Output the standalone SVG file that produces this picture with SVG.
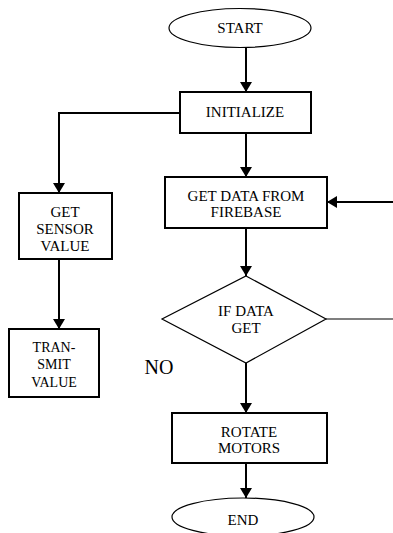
<svg xmlns="http://www.w3.org/2000/svg" width="393" height="533" viewBox="0 0 393 533">
<defs>
<marker id="ah" viewBox="0 0 10 12" refX="10" refY="6" markerWidth="10" markerHeight="12" markerUnits="userSpaceOnUse" orient="auto">
<path d="M0,0 L10,6 L0,12 Z" fill="#000"/>
</marker>
</defs>
<style>
.box{fill:#fff;stroke:#000;stroke-width:2}
.thin{fill:#fff;stroke:#000;stroke-width:1.2}
text{font-family:'Liberation Serif','Times New Roman',serif;font-size:15px;fill:#000;text-anchor:middle}
.s{font-size:14px}
.c{fill:none;stroke:#000;stroke-width:2}
.cl{fill:none;stroke:#000;stroke-width:1.2}
</style>
<rect width="393" height="533" fill="#fff"/>
<g id="connectors">
<line class="c" x1="246" y1="47" x2="246" y2="92" marker-end="url(#ah)"/>
<line class="c" x1="246" y1="133" x2="246" y2="177" marker-end="url(#ah)"/>
<polyline class="c" points="180,113 59,113 59,193" marker-end="url(#ah)"/>
<line class="c" x1="59" y1="259" x2="59" y2="329" marker-end="url(#ah)"/>
<line class="c" x1="393" y1="202" x2="327" y2="202" marker-end="url(#ah)"/>
<line class="c" x1="246" y1="228" x2="246" y2="276" marker-end="url(#ah)"/>
<line class="cl" x1="326" y1="319" x2="393" y2="319"/>
<line class="c" x1="246" y1="363" x2="246" y2="413" marker-end="url(#ah)"/>
<line class="c" x1="246" y1="463" x2="246" y2="498" marker-end="url(#ah)"/>
</g>
<g id="start">
<ellipse class="thin" cx="240" cy="28" rx="71" ry="19.5"/>
<text x="240" y="33">START</text>
</g>
<g id="initialize">
<rect class="box" x="180" y="92" width="131" height="41"/>
<text x="245" y="117">INITIALIZE</text>
</g>
<g id="get-sensor">
<rect class="box" x="19" y="193" width="93" height="66"/>
<text x="65" y="217">GET</text>
<text x="65" y="234">SENSOR</text>
<text x="65" y="251">VALUE</text>
</g>
<g id="transmit">
<rect class="box" x="9" y="329" width="90" height="68"/>
<text class="s" x="54" y="352">TRAN-</text>
<text class="s" x="54" y="369">SMIT</text>
<text class="s" x="54" y="387">VALUE</text>
</g>
<g id="get-data">
<rect class="box" x="165" y="177" width="162" height="51"/>
<text x="246" y="201">GET DATA FROM</text>
<text x="246" y="217">FIREBASE</text>
</g>
<g id="if-data">
<polygon class="thin" points="246,276 326,319 246,363 162,319"/>
<text x="246" y="316">IF DATA</text>
<text x="246" y="333">GET</text>
</g>
<g id="no-label">
<text x="159" y="374" style="font-size:20px">NO</text>
</g>
<g id="rotate">
<rect class="box" x="172" y="413" width="155" height="50"/>
<text x="249" y="437">ROTATE</text>
<text x="249" y="453">MOTORS</text>
</g>
<g id="end">
<ellipse class="thin" cx="243" cy="517" rx="71" ry="19"/>
<text x="243" y="525">END</text>
</g>
</svg>
